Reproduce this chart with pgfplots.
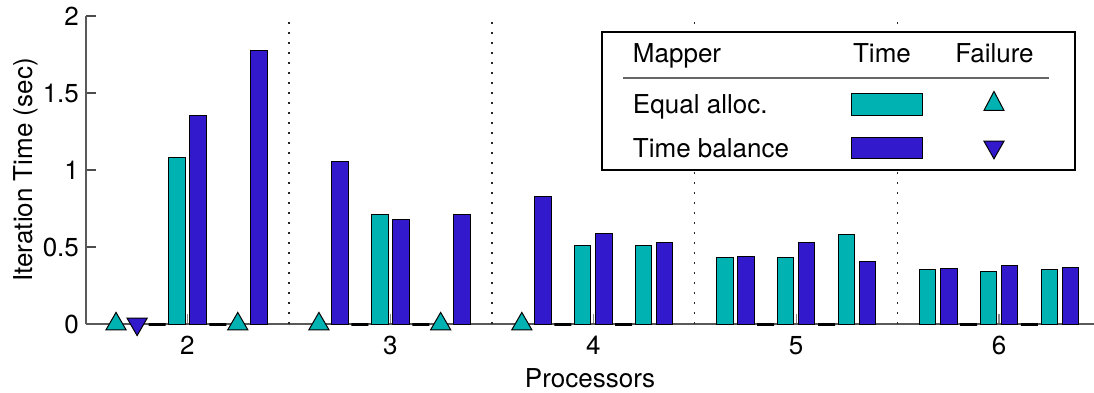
\documentclass[border=0pt]{standalone}
\usepackage{fontspec}
\setmainfont{TeX Gyre Heros}
\usepackage{pgfplots}
\pgfplotsset{compat=1.18}
\usetikzlibrary{calc}
\definecolor{tealc}{RGB}{0,178,178}
\definecolor{bluec}{RGB}{51,25,204}
\newcommand\lfont{\fontsize{13}{15.6}\selectfont}
\begin{document}
\begin{tikzpicture}
\begin{axis}[
  scale only axis, width=504pt, height=154pt,
  xmin=1.5, xmax=6.468, ymin=0, ymax=2,
  axis x line*=bottom, axis y line*=left,
  axis line style={-, draw=black!65, line width=0.6pt},
  tick align=inside,
  xtick={2,3,4,5,6},
  ytick={0,0.5,1,1.5,2},
  major tick length=5pt,
  xtick style={draw=black!45, line width=0.6pt},
  ytick style={draw=black!70, line width=0.6pt},
  extra x ticks={2.5,3.5,4.5,5.5},
  extra x tick labels={},
  extra x tick style={grid=major, major tick length=0pt,
    major grid style={draw=black!85, line width=0.8pt, dash pattern=on 0.8pt off 4.2pt}},
  tick label style={font=\lfont},
  /pgf/number format/assume math mode=true,
  xticklabel style={yshift=-2.5pt},
  xlabel={Processors}, ylabel={Iteration Time (sec)},
  label style={font=\lfont},
  xlabel style={at={(axis description cs:0.5,0)}, anchor=base, yshift=-31.5pt},
  ylabel style={at={(axis description cs:-0.0526,0.5)}, anchor=base},
  clip=false,
  legend columns=3,
  legend style={at={(0.5119,0.948)}, anchor=north west, draw=black, line width=0.6pt,
    fill=white, inner sep=0pt, outer sep=0pt, column sep=0pt, row sep=0pt,
    nodes={inner sep=0pt, outer sep=0pt, draw=none, fill=none}},
]
% ---- legend (table-like) ----
\addlegendimage{legend image code/.code={%
  \path[draw=none,fill=none] (0pt,-13.25pt) rectangle (110pt,10.75pt);
  \node[anchor=base west,inner sep=0pt,draw=none,fill=none,font=\lfont] at (15.5pt,-4.7pt) {Mapper};
  \draw[overlay,draw=black!60,line width=0.7pt] (10.5pt,-12.25pt) -- (223.5pt,-12.25pt);}}
\addlegendentry{\mbox{}}
\addlegendimage{legend image code/.code={%
  \path[draw=none,fill=none] (0pt,-13.25pt) rectangle (63pt,10.75pt);
  \node[anchor=base,inner sep=0pt,draw=none,fill=none,font=\lfont] at (29pt,-4.7pt) {Time};}}
\addlegendentry{\mbox{}}
\addlegendimage{legend image code/.code={%
  \path[draw=none,fill=none] (0pt,-13.25pt) rectangle (60.5pt,10.75pt);
  \node[anchor=base,inner sep=0pt,draw=none,fill=none,font=\lfont] at (21.25pt,-4.7pt) {Failure};}}
\addlegendentry{\mbox{}}
\addlegendimage{legend image code/.code={%
  \path[draw=none,fill=none] (0pt,-11pt) rectangle (110pt,12pt);
  \node[anchor=base west,inner sep=0pt,draw=none,fill=none,font=\lfont] at (15.5pt,-4.7pt) {Equal alloc.};}}
\addlegendentry{\mbox{}}
\addlegendimage{legend image code/.code={%
  \path[draw=none,fill=none] (0pt,-11pt) rectangle (63pt,12pt);
  \draw[fill=tealc,draw=black,line width=0.5pt] (14pt,-5.5pt) rectangle (49.5pt,5.5pt);}}
\addlegendentry{\mbox{}}
\addlegendimage{legend image code/.code={%
  \path[draw=none,fill=none] (0pt,-11pt) rectangle (60.5pt,12pt);
  \draw[fill=tealc,draw=black,line width=0.5pt] (16pt,-3.2pt) -- (26pt,-3.2pt) -- (21pt,6.3pt) -- cycle;}}
\addlegendentry{\mbox{}}
\addlegendimage{legend image code/.code={%
  \path[draw=none,fill=none] (0pt,-11pt) rectangle (110pt,11pt);
  \node[anchor=base west,inner sep=0pt,draw=none,fill=none,font=\lfont] at (15.5pt,-4.7pt) {Time balance};}}
\addlegendentry{\mbox{}}
\addlegendimage{legend image code/.code={%
  \path[draw=none,fill=none] (0pt,-11pt) rectangle (63pt,11pt);
  \draw[fill=bluec,draw=black,line width=0.5pt] (14pt,-5.25pt) rectangle (49.5pt,5.25pt);}}
\addlegendentry{\mbox{}}
\addlegendimage{legend image code/.code={%
  \path[draw=none,fill=none] (0pt,-11pt) rectangle (60.5pt,11pt);
  \draw[fill=bluec,draw=black,line width=0.5pt] (16pt,3.4pt) -- (26pt,3.4pt) -- (21pt,-5.4pt) -- cycle;}}
\addlegendentry{\mbox{}}

% ---- zero-height gap bars ----
\addplot[ybar, bar width=8.5pt, bar shift=0pt, draw=black, line width=1.5pt]
  coordinates {(1.85,0)(2.15,0)(2.85,0)(3.15,0)(3.85,0)(4.15,0)(4.85,0)(5.15,0)(5.85,0)(6.15,0)};
% ---- Equal alloc. ----
\addplot[ybar, bar width=8.3pt, bar shift=0pt, fill=tealc, draw=black, line width=0.5pt]
  coordinates {(1.948,1.078)(2.948,0.714)(3.948,0.507)(4.248,0.513)
               (4.648,0.433)(4.948,0.433)(5.248,0.578)
               (5.648,0.351)(5.948,0.344)(6.248,0.357)};
% ---- Time balance ----
\addplot[ybar, bar width=8.3pt, bar shift=0pt, fill=bluec, draw=black, line width=0.5pt]
  coordinates {(2.052,1.357)(2.352,1.779)
               (2.752,1.052)(3.052,0.680)(3.352,0.708)
               (3.752,0.831)(4.052,0.590)(4.352,0.526)
               (4.752,0.440)(5.052,0.526)(5.352,0.409)
               (5.752,0.361)(6.052,0.379)(6.352,0.370)};
% ---- failures ----
\addplot[only marks, mark=triangle*, mark size=5.8pt,
  mark options={fill=tealc, draw=black, line width=0.5pt}]
  coordinates {(1.648,0)(2.248,0)(2.648,0)(3.248,0)(3.648,0)};
\addplot[only marks, mark=triangle*, mark size=5.8pt,
  mark options={fill=bluec, draw=black, line width=0.5pt, rotate=180}]
  coordinates {(1.752,0)};
\end{axis}
\pgfresetboundingbox
\path ($(current axis.south west)+(-43pt,-34pt)$) rectangle ($(current axis.north east)+(0pt,8pt)$);
\end{tikzpicture}
\end{document}
